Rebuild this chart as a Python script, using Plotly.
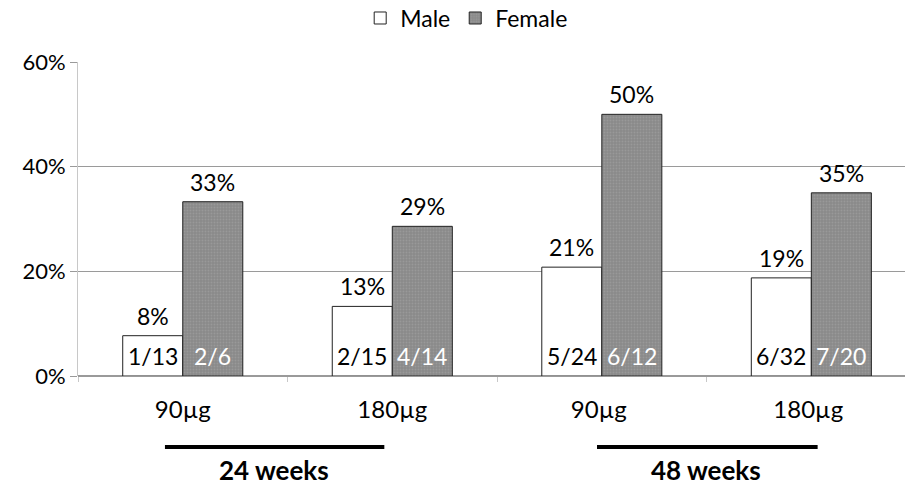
import plotly.graph_objects as go

categories = ["90µg", "180µg", "90µg ", "180µg "]
male_values = [7.7, 13.3, 20.8, 18.75]
female_values = [33.3, 28.6, 50.0, 35.0]
male_pct_labels = ["8%", "13%", "21%", "19%"]
female_pct_labels = ["33%", "29%", "50%", "35%"]
male_counts = ["1/13", "2/15", "5/24", "6/32"]
female_counts = ["2/6", "4/14", "6/12", "7/20"]
y_ticks = [0, 20, 40, 60]
y_tick_labels = ["0%", "20%", "40%", "60%"]
period_labels = ["24 weeks", "48 weeks"]

FONT = "Lato, 'Open Sans', sans-serif"

fig = go.Figure()
fig.add_trace(go.Bar(
    name="Male", x=categories, y=male_values,
    marker=dict(color="white", line=dict(color="#222222", width=1)),
))
fig.add_trace(go.Bar(
    name="Female", x=categories, y=female_values,
    marker=dict(color="#8e8e8e", line=dict(color="#222222", width=1),
                pattern=dict(shape=".", fgcolor="#a8a8a8", bgcolor="#8a8a8a", size=3, solidity=0.3)),
))

annotations = []
offset = 0.143
for i, cat in enumerate(categories):
    annotations.append(dict(x=i - offset, y=male_values[i], xref="x", yref="y",
                            text=male_pct_labels[i], showarrow=False, yanchor="bottom", yshift=4,
                            font=dict(size=23, family=FONT, color="black")))
    annotations.append(dict(x=i + offset, y=female_values[i], xref="x", yref="y",
                            text=female_pct_labels[i], showarrow=False, yanchor="bottom", yshift=4,
                            font=dict(size=23, family=FONT, color="black")))
    annotations.append(dict(x=i - offset, y=0, xref="x", yref="y",
                            text=male_counts[i], showarrow=False, yanchor="bottom", yshift=4,
                            font=dict(size=23, family=FONT, color="black")))
    annotations.append(dict(x=i + offset, y=0, xref="x", yref="y",
                            text=female_counts[i], showarrow=False, yanchor="bottom", yshift=4,
                            font=dict(size=23, family=FONT, color="white")))

# period labels and lines
period_centers = [0.436, 2.498]
line_spans = [(-0.085, 0.962), (1.977, 3.03)]
shapes = []
for lab, c, (x0, x1) in zip(period_labels, period_centers, line_spans):
    annotations.append(dict(x=c, y=-0.299, xref="x", yref="paper", text="<b>" + lab + "</b>",
                            showarrow=False, yanchor="middle",
                            font=dict(size=26, family=FONT, color="black")))
    shapes.append(dict(type="line", xref="x", yref="paper", x0=x0, x1=x1, y0=-0.226, y1=-0.226,
                       line=dict(color="black", width=4)))

fig.update_layout(
    width=905, height=489,
    margin=dict(l=78, r=0, t=62, b=113, autoexpand=False),
    paper_bgcolor="white", plot_bgcolor="white",
    barmode="group", bargap=0.427, bargroupgap=0,
    font=dict(family=FONT, size=23, color="black"),
    legend=dict(orientation="h", x=0.47, xanchor="center", y=1.14, yref="paper", yanchor="middle",
                font=dict(size=23, family=FONT), traceorder="normal"),
    annotations=annotations, shapes=shapes,
    xaxis=dict(range=[-0.5, 3.447], showgrid=False, ticks="outside", tickson="boundaries",
               ticklen=5, tickcolor="#c8c8c8", showline=False, ticklabelstandoff=17,
               tickfont=dict(size=24, family=FONT)),
    yaxis=dict(range=[0, 60], tickvals=y_ticks, ticktext=y_tick_labels,
               showgrid=True, gridcolor="#9a9a9a", gridwidth=1,
               ticks="outside", ticklen=7, tickcolor="#9a9a9a",
               showline=True, linecolor="#c8c8c8", linewidth=1, zeroline=True,
               zerolinecolor="#9a9a9a", tickfont=dict(size=22, family=FONT)),
)

fig.write_html("out.html", config={"displayModeBar": False},
               post_script="document.body.style.margin='0';")
